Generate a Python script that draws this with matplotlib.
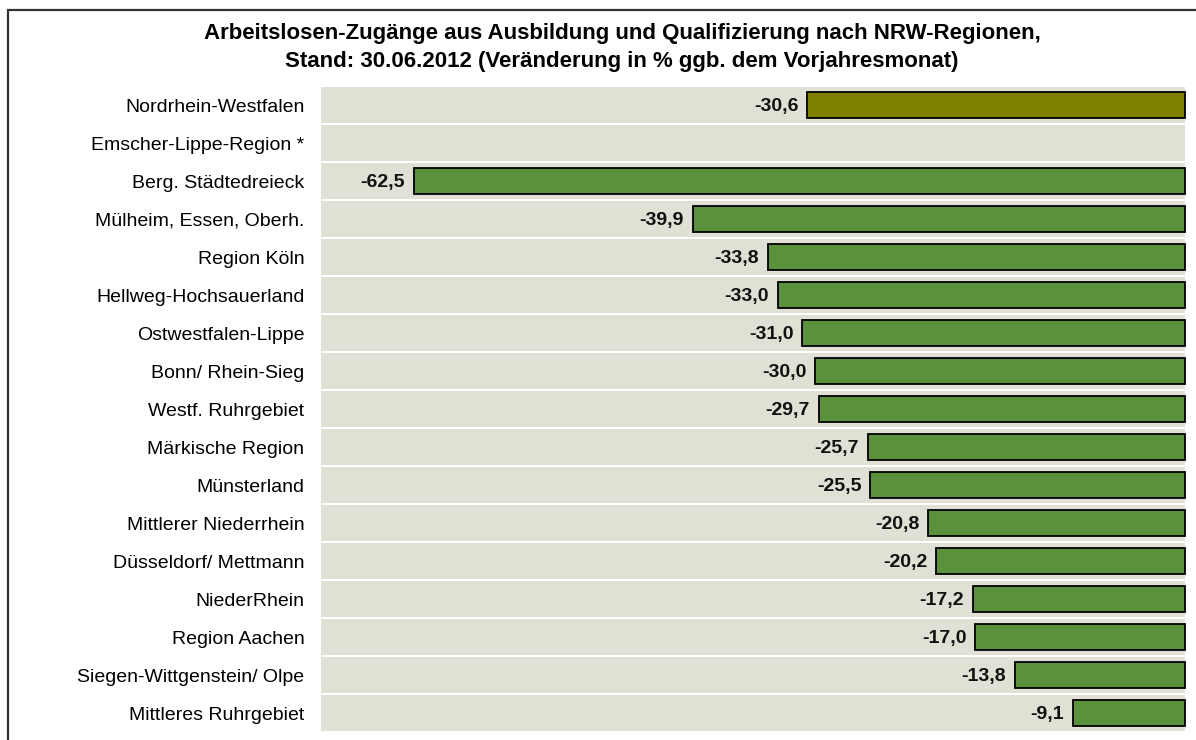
import numpy as np
import matplotlib
matplotlib.use('Agg')
import matplotlib.pyplot as plt
from matplotlib.patches import Rectangle

regions = ["Nordrhein-Westfalen", "Emscher-Lippe-Region *", "Berg. Städtedreieck",
           "Mülheim, Essen, Oberh.", "Region Köln", "Hellweg-Hochsauerland",
           "Ostwestfalen-Lippe", "Bonn/ Rhein-Sieg", "Westf. Ruhrgebiet",
           "Märkische Region", "Münsterland", "Mittlerer Niederrhein",
           "Düsseldorf/ Mettmann", "NiederRhein", "Region Aachen",
           "Siegen-Wittgenstein/ Olpe", "Mittleres Ruhrgebiet"]
values = [-30.6, np.nan, -62.5, -39.9, -33.8, -33.0, -31.0, -30.0, -29.7,
          -25.7, -25.5, -20.8, -20.2, -17.2, -17.0, -13.8, -9.1]

plt.rcParams['font.family'] = ['Liberation Sans', 'DejaVu Sans']

W, H = 1196, 740
fig = plt.figure(figsize=(W / 100, H / 100), dpi=100)

# outer frame (cut off at right and bottom like the original)
fig.patches.append(Rectangle((8 / W, -0.1), 1.2, 1 - 10 / H + 0.1, transform=fig.transFigure,
                             fill=False, edgecolor='#333333', linewidth=1.6))

ax = fig.add_axes([321 / W, 1 - 732 / H, (1187 - 321) / W, (732 - 86) / H])
n = len(regions)
y = np.arange(n)
vals = np.array(values)
ok = ~np.isnan(vals)

ax.barh(y, [-70] * n, height=0.93, color='#E0E0D4', zorder=1)
colors = np.array(['#808000'] + ['#5B913B'] * (n - 1))
ax.barh(y[ok], vals[ok], height=0.68, color=colors[ok], edgecolor='black',
        linewidth=1.3, zorder=2)

for yi, v in zip(y[ok], vals[ok]):
    ax.text(v - 0.7, yi, f'{v:.1f}'.replace('.', ','), ha='right', va='center_baseline',
            fontsize=14, fontweight='bold', color='#111111', zorder=3)

ax.set_xlim(-70, 0.15)
ax.set_ylim(n - 0.5, -0.5)
ax.set_yticks(y)
ax.set_yticklabels(regions, fontsize=14)
ax.tick_params(axis='y', length=0, pad=12)
ax.set_xticks([])
for s in ax.spines.values():
    s.set_visible(False)

fig.text(622 / W, 1 - 33 / H, 'Arbeitslosen-Zugänge aus Ausbildung und Qualifizierung nach NRW-Regionen,',
         ha='center', va='center', fontsize=16, fontweight='bold')
fig.text(622 / W, 1 - 62 / H, 'Stand: 30.06.2012 (Veränderung in % ggb. dem Vorjahresmonat)',
         ha='center', va='center', fontsize=16, fontweight='bold')

fig.savefig('out.png', dpi=100)
